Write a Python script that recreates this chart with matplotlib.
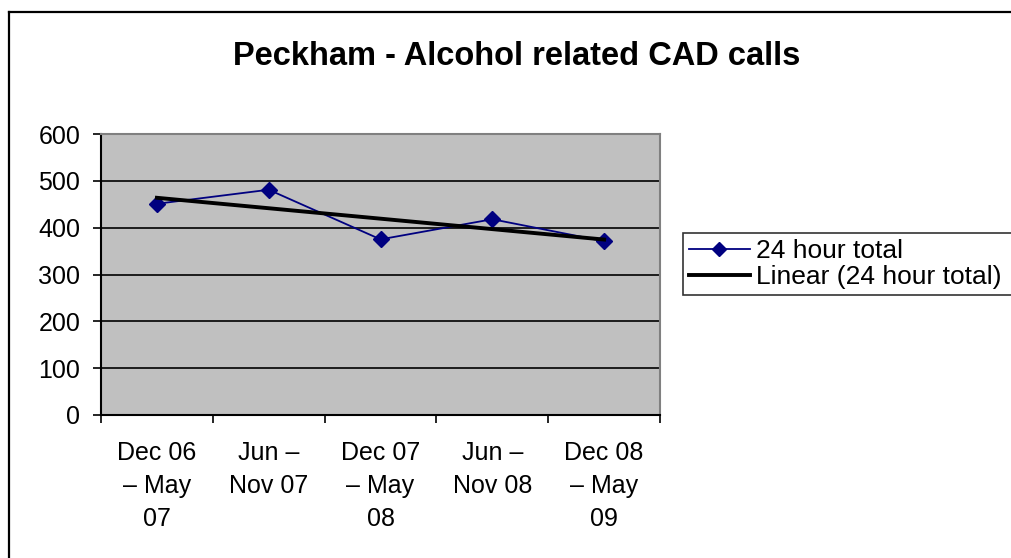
import numpy as np
import matplotlib
matplotlib.use("Agg")
import matplotlib.pyplot as plt
from matplotlib.lines import Line2D

# ---- data ----
categories = ["Dec 06\n\u2013 May\n07", "Jun \u2013\nNov 07", "Dec 07\n\u2013 May\n08",
              "Jun \u2013\nNov 08", "Dec 08\n\u2013 May\n09"]
totals = [451, 481, 375, 418, 371]
y_ticks = [0, 100, 200, 300, 400, 500, 600]
title = "Peckham - Alcohol related CAD calls"
series_label = "24 hour total"
trend_label = "Linear (24 hour total)"

plt.rcParams['font.family'] = ['Liberation Sans', 'DejaVu Sans']

W, H = 1011, 558
fig = plt.figure(figsize=(W / 100, H / 100), dpi=100)
fig.patch.set_facecolor("white")

# outer chart border (left and top visible; right/bottom cut off)
fig.add_artist(Line2D([9 / W, 9 / W], [0, 1 - 12 / H], transform=fig.transFigure,
                      color="black", lw=1.6, solid_capstyle="projecting"))
fig.add_artist(Line2D([9 / W, 1], [1 - 12 / H, 1 - 12 / H], transform=fig.transFigure,
                      color="black", lw=1.6, solid_capstyle="projecting"))

left, right, top, bottom = 101, 660, 134, 415
ax = fig.add_axes([left / W, 1 - bottom / H, (right - left) / W, (bottom - top) / H])
ax.set_facecolor("#C0C0C0")

x = np.arange(len(totals))
ax.plot(x, totals, color="#000080", lw=1.3, marker="D", markersize=8.5,
        markerfacecolor="#000080", markeredgecolor="#000080", zorder=3,
        label=series_label)
coef = np.polyfit(x, totals, 1)
ax.plot(x, np.polyval(coef, x), color="black", lw=2.8, zorder=4, label=trend_label)

ax.set_xlim(-0.5, len(totals) - 0.5)
ax.set_ylim(0, 600)
ax.set_yticks(y_ticks)
ax.set_xticks(np.arange(-0.5, len(totals), 1.0))
ax.set_xticklabels([])
ax.set_xticks(x, minor=True)
ax.set_xticklabels(categories, minor=True, fontsize=18, linespacing=1.47)
ax.tick_params(axis="x", which="minor", length=0, pad=19)
ax.tick_params(axis="x", which="major", length=6, width=1.2, direction="out", color="black")
ax.tick_params(axis="y", length=6, width=1.2, direction="out", labelsize=18, pad=9)

for yv in y_ticks[1:-1]:
    ax.axhline(yv, color="black", lw=1.2, zorder=1)
for s in ["top", "right"]:
    ax.spines[s].set_color("#808080")
    ax.spines[s].set_linewidth(1.5)
for s in ["left", "bottom"]:
    ax.spines[s].set_color("black")
    ax.spines[s].set_linewidth(1.5)

fig.text(517 / W, 1 - 56 / H, title, ha="center", va="center",
         fontsize=23.5, fontweight="bold")

# legend box runs past the right edge of the picture, as in the original
leg_top = 1 - 233 / H
leg = fig.legend(loc="upper left",
                 bbox_to_anchor=(683 / W, leg_top - 0.2, (1040 - 683) / W, 0.2),
                 mode="expand", borderaxespad=0, fontsize=19, frameon=True,
                 fancybox=False, edgecolor="black", handlelength=2.3,
                 handletextpad=0.25, labelspacing=0.1, borderpad=0.22,
                 markerscale=0.8)
leg.get_frame().set_linewidth(1.2)

fig.savefig("out.png", dpi=100, facecolor="white")
